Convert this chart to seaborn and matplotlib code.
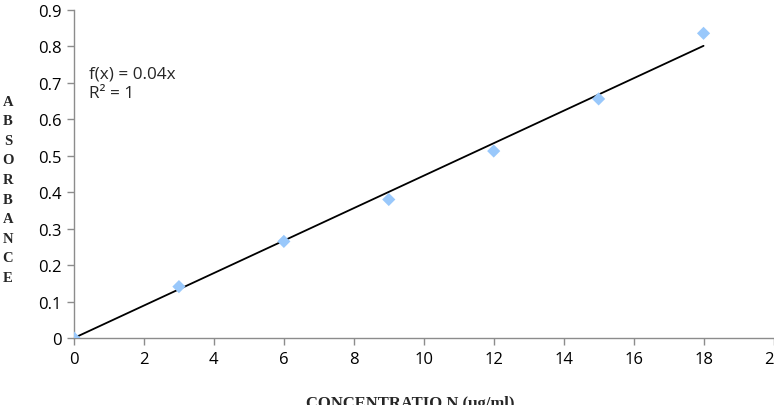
import numpy as np
import pandas as pd
import matplotlib
matplotlib.use("Agg")
import matplotlib.pyplot as plt
import seaborn as sns
from matplotlib.ticker import FuncFormatter

# data
concentration = [0, 3, 6, 9, 12, 15, 18]
absorbance = [0.0, 0.141, 0.265, 0.380, 0.513, 0.656, 0.836]
x_ticks = [0, 2, 4, 6, 8, 10, 12, 14, 16, 18, 20]
y_ticks = [0, 0.1, 0.2, 0.3, 0.4, 0.5, 0.6, 0.7, 0.8, 0.9]
eq_text = "f(x) = 0.04x\nR² = 1"
y_label_letters = list("ABSORBANCE")
x_label = "CONCENTRATIO N (µg/ml)"

sns.set_style("white")
plt.rcParams['font.family'] = ['Open Sans', 'DejaVu Sans']

df = pd.DataFrame({"x": concentration, "y": absorbance})
xs = np.array(concentration, dtype=float)
ys = np.array(absorbance, dtype=float)
slope = (xs * ys).sum() / (xs * xs).sum()
trend = pd.DataFrame({"x": [xs.min(), xs.max()], "y": [slope * xs.min(), slope * xs.max()]})

fig = plt.figure(figsize=(7.74, 4.06), dpi=100)
ax = fig.add_axes([74 / 774, 1 - 339 / 406, (773.5 - 74) / 774, (339 - 11) / 406])

sns.lineplot(data=trend, x="x", y="y", ax=ax, color="black", linewidth=1.3, zorder=2)
sns.scatterplot(data=df, x="x", y="y", ax=ax, marker="D", s=45, color="#99c8fb",
                edgecolor="none", zorder=3)

ax.set_xlim(0, 20)
ax.set_ylim(0, 0.9)
ax.set_xticks(x_ticks)
ax.set_yticks(y_ticks)
ax.yaxis.set_major_formatter(FuncFormatter(lambda v, p: f"{v:g}"))
ax.set_xlabel("")
ax.set_ylabel("")

for side in ["top", "right"]:
    ax.spines[side].set_visible(False)
for side in ["left", "bottom"]:
    ax.spines[side].set_color("#8c8c8c")
    ax.spines[side].set_linewidth(1.0)
ax.tick_params(axis="both", which="major", direction="out", length=5, width=1,
               color="#8c8c8c", labelsize=12, labelcolor="black", pad=4, left=True, bottom=True)

ax.text(15 / 699.5, 1 - (56 / 328), eq_text, transform=ax.transAxes, fontsize=12.3,
        va="top", ha="left", linespacing=1.25)

# vertical stacked y label
top_px, step_px = 102, 19.6
for i, ch in enumerate(y_label_letters):
    fig.text(8 / 774, 1 - (top_px + i * step_px) / 406, ch, ha="center", va="center",
             family="Liberation Serif", fontweight="bold", fontsize=10.5)

fig.text(410 / 774, 1 - 396 / 406, x_label, ha="center", va="top",
         family="Liberation Serif", fontweight="bold", fontsize=12)

fig.savefig("out.png", dpi=100)
